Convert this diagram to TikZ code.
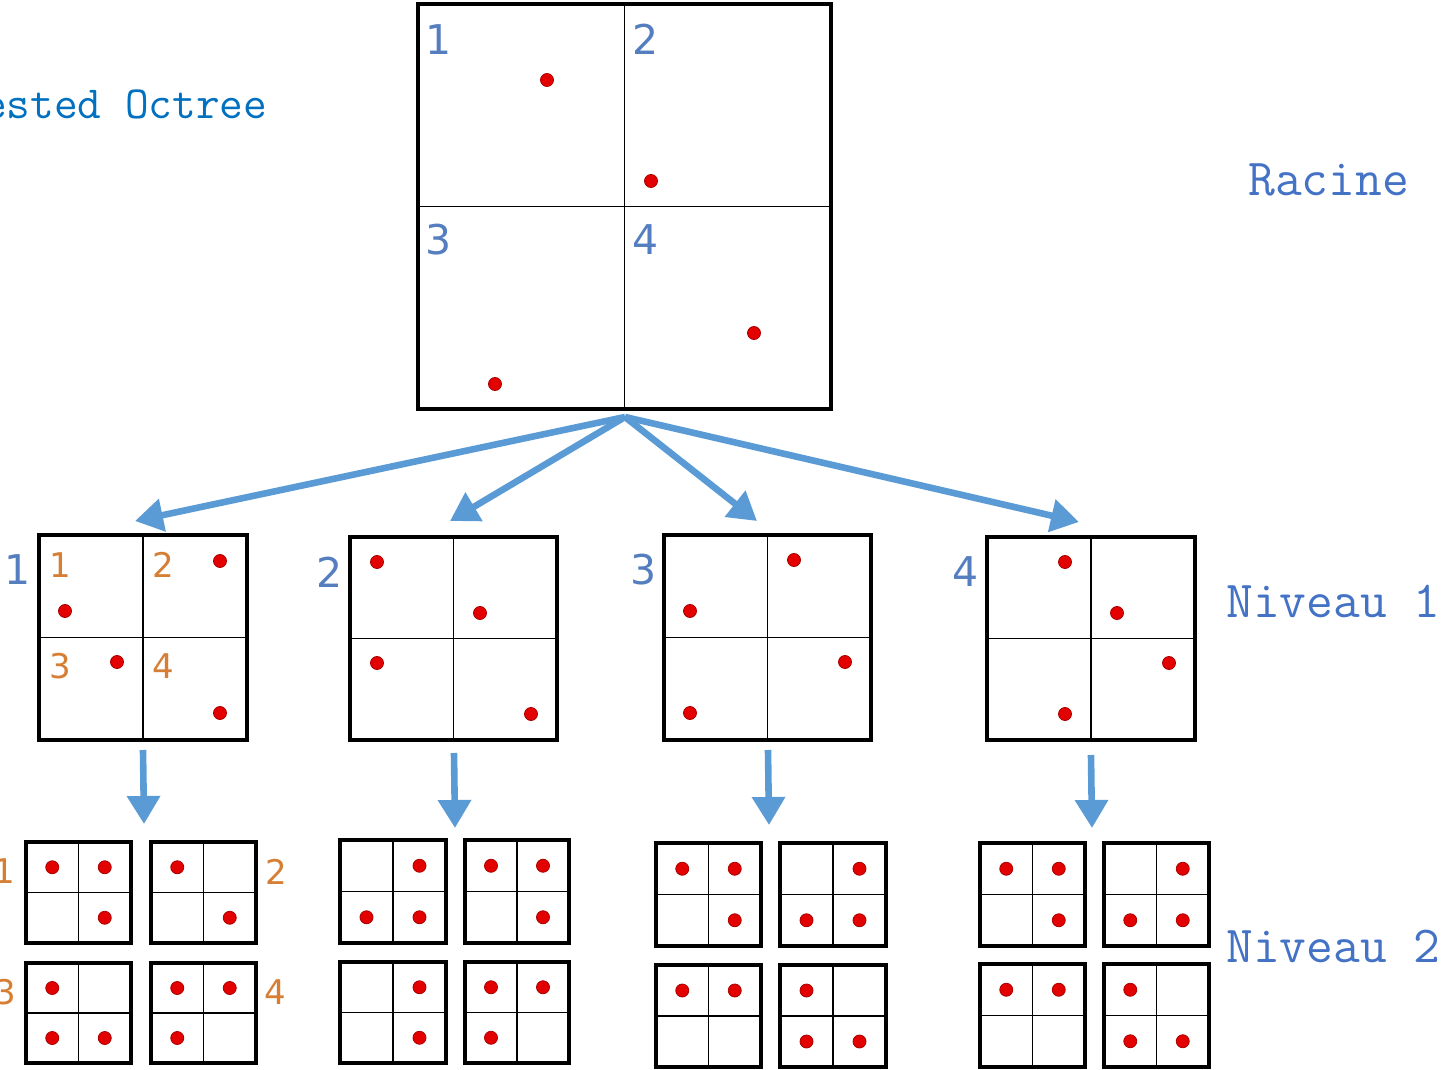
\documentclass[tikz,border=0pt]{standalone}
\usepackage{fontspec}
\usetikzlibrary{arrows.meta}
\newfontfamily\digitfont{DejaVu Sans}
\definecolor{labelblue}{RGB}{84,126,192}
\definecolor{titleblue}{RGB}{68,114,196}
\definecolor{octblue}{RGB}{0,112,192}
\definecolor{quadorange}{RGB}{214,126,52}
\definecolor{arrowblue}{RGB}{91,155,213}
\definecolor{dotred}{RGB}{226,0,0}
\definecolor{dotrim}{RGB}{170,0,0}

\tikzset{
  cellbox/.style={draw=black, line width=1.7pt, inner sep=0pt, fill=white},
  divider/.style={draw=black, line width=0.9pt},
  pt/.style={fill=dotred, draw=dotrim, line width=0.4pt},
  bluenum/.style={text=labelblue, font=\digitfont\fontsize{20.5}{24}\selectfont, inner sep=0pt},
  orangenum/.style={text=quadorange, font=\digitfont\fontsize{17}{20}\selectfont, inner sep=0pt},
  levellabel/.style={text=titleblue, font=\ttfamily\fontsize{26}{29}\selectfont, inner sep=0pt, anchor=base west},
  linkarrow/.style={draw=arrowblue, line width=3.3pt, -{Triangle[length=14pt, width=16pt]}},
}

% a split square: name, centre x, centre y, width, height, filled quadrants as sx/sy pairs
\newcommand{\quadbox}[6]{%
  \node[cellbox, minimum width=#4*0.5pt, minimum height=#5*0.5pt] (#1) at (#2,#3) {};
  \draw[divider] (#1.north) -- (#1.south) (#1.west) -- (#1.east);
  \foreach \sx/\sy in {#6} {
    \path[pt] ({#2+\sx*#4/4},{#3+\sy*#5/4}) circle[radius=3.25pt];
  }%
}
% a split square whose dots are placed separately
\newcommand{\splitsquare}[5]{%
  \node[cellbox, minimum width=#4*0.5pt, minimum height=#5*0.5pt] (#1) at (#2,#3) {};
  \draw[divider] (#1.north) -- (#1.south) (#1.west) -- (#1.east);
}

\begin{document}
\begin{tikzpicture}[x=0.5pt, y=-0.5pt]
\useasboundingbox (0,0) rectangle (1442,1070);
\clip (0,0) rectangle (1442,1070);

% ---- root ----
\splitsquare{root}{624.5}{206.5}{413}{405}
\node[bluenum] (r1) at (439,40) {1};
\node[bluenum] (r2) at (646,39) {2};
\node[bluenum] (r3) at (439,240) {3};
\node[bluenum] (r4) at (646,240) {4};
\foreach \x/\y in {547/80, 651/181, 495/384, 754/333}
  \path[pt] (\x,\y) circle[radius=3.25pt];

\node[text=octblue, font=\ttfamily\fontsize{23}{26}\selectfont, inner sep=0pt, anchor=base west] (title) at (-41,119) {Nested Octree};
\node[levellabel] (racine) at (1248,196) {Racine};
\node[levellabel] (niv1) at (1226,617) {Niveau 1};
\node[levellabel] (niv2) at (1226,962) {Niveau 2};

% ---- level 1 ----
\splitsquare{la}{143}{637.5}{208}{205}
\splitsquare{lb}{453.5}{638.5}{207}{203}
\splitsquare{lc}{767.5}{637.5}{207}{205}
\splitsquare{ld}{1091}{638.5}{208}{203}

\node[bluenum] (n1) at (18,570) {1};
\node[bluenum] (n2) at (330,572) {2};
\node[bluenum] (n3) at (644,570) {3};
\node[bluenum] (n4) at (966,572) {4};

\node[orangenum] (qa1) at (60,565) {1};
\node[orangenum] (qa2) at (163,565) {2};
\node[orangenum] (qa3) at (60,666) {3};
\node[orangenum] (qa4) at (163,666) {4};

\foreach \x/\y in {65/611, 220/561, 117/662, 220/713,
                   377/562, 480/613, 377/663, 531/714,
                   794/560, 690/611, 845/662, 690/713,
                   1065/562, 1117/613, 1169/663, 1065/714}
  \path[pt] (\x,\y) circle[radius=3.25pt];

% ---- connectors root -> level 1 ----
\coordinate (hub) at (625,417);
\coordinate (ta) at (135,521);
\coordinate (tb) at (450,521);
\coordinate (tc) at (757,521);
\coordinate (td) at (1079,522);
\draw[linkarrow] (hub) -- (ta);
\draw[linkarrow] (hub) -- (tb);
\draw[linkarrow] (hub) -- (tc);
\draw[linkarrow] (hub) -- (td);

% ---- connectors level 1 -> level 2 ----
\coordinate (sa) at (143,750);  \coordinate (ea) at (144,824);
\coordinate (sb) at (454,753);  \coordinate (eb) at (455,828);
\coordinate (sc) at (768,750);  \coordinate (ec) at (769,825);
\coordinate (sd) at (1091,755); \coordinate (ed) at (1092,828);
\draw[linkarrow] (sa) -- (ea);
\draw[linkarrow] (sb) -- (eb);
\draw[linkarrow] (sc) -- (ec);
\draw[linkarrow] (sd) -- (ed);

% ---- level 2 ----
\quadbox{a1}{78.5}{892.5}{105}{101}{-1/-1, 1/-1, 1/1}
\quadbox{a2}{203.5}{892.5}{105}{101}{-1/-1, 1/1}
\quadbox{a3}{78.5}{1013}{105}{100}{-1/-1, -1/1, 1/1}
\quadbox{a4}{203.5}{1013}{105}{100}{-1/-1, 1/-1, -1/1}

\quadbox{b1}{393}{891.5}{106}{103}{1/-1, -1/1, 1/1}
\quadbox{b2}{517}{891.5}{104}{103}{-1/-1, 1/-1, 1/1}
\quadbox{b3}{393}{1012.5}{106}{101}{1/-1, 1/1}
\quadbox{b4}{517}{1012.5}{104}{101}{-1/-1, 1/-1, -1/1}

\quadbox{c1}{708.5}{894.5}{105}{103}{-1/-1, 1/-1, 1/1}
\quadbox{c2}{833}{894.5}{106}{103}{1/-1, -1/1, 1/1}
\quadbox{c3}{708.5}{1016}{105}{102}{-1/-1, 1/-1}
\quadbox{c4}{833}{1016}{106}{102}{-1/-1, -1/1, 1/1}

\quadbox{d1}{1032.5}{894.5}{105}{103}{-1/-1, 1/-1, 1/1}
\quadbox{d2}{1156.5}{894.5}{105}{103}{1/-1, -1/1, 1/1}
\quadbox{d3}{1032.5}{1015.5}{105}{103}{-1/-1, 1/-1}
\quadbox{d4}{1156.5}{1015.5}{105}{103}{-1/-1, -1/1, 1/1}

\node[orangenum] (ga1) at (4,871) {1};
\node[orangenum] (ga2) at (276,872) {2};
\node[orangenum] (ga3) at (5,992) {3};
\node[orangenum] (ga4) at (275,992) {4};
\end{tikzpicture}
\end{document}
